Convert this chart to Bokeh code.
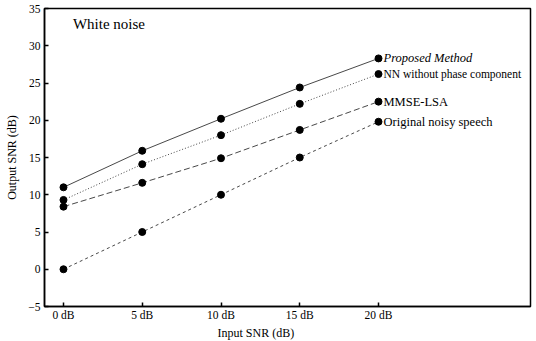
from bokeh.plotting import figure
from bokeh.models import Range1d, FixedTicker, Label, Title
from bokeh.embed import file_html
from bokeh.resources import INLINE

x_snr = [0, 5, 10, 15, 20]
x_tick_labels = ["0 dB", "5 dB", "10 dB", "15 dB", "20 dB"]
y_ticks = [-5, 0, 5, 10, 15, 20, 25, 30, 35]

proposed = [11.0, 15.9, 20.2, 24.4, 28.3]
nn_nophase = [9.3, 14.1, 18.0, 22.2, 26.2]
mmse_lsa = [8.4, 11.6, 14.9, 18.7, 22.5]
original = [0.0, 5.0, 10.0, 15.0, 19.8]

series_names = ["Proposed Method", "NN without phase component", "MMSE-LSA", "Original noisy speech"]
series_vals = [proposed, nn_nophase, mmse_lsa, original]
series_dash = ["solid", "1 2", "6 3", "3 3"]
label_sizes = ["12.5px", "11.5px", "12.5px", "12.5px"]
label_styles = ["italic", "normal", "normal", "normal"]

FONT = "Liberation Serif"

p = figure(width=534, height=340, output_backend="svg", toolbar_location=None,
           x_range=Range1d(-1.206, 29.65), y_range=Range1d(-5, 35),
           min_border_left=44, min_border_right=4, min_border_top=8, min_border_bottom=32)

p.xgrid.visible = False
p.ygrid.visible = False
p.outline_line_color = "black"
p.outline_line_width = 1.5
p.background_fill_color = "white"
p.border_fill_color = "white"

# axes
p.xaxis.ticker = FixedTicker(ticks=x_snr)
p.xaxis.major_label_overrides = {x: l for x, l in zip(x_snr, x_tick_labels)}
p.yaxis.ticker = FixedTicker(ticks=y_ticks)
for ax in (p.xaxis[0], p.yaxis[0]):
    ax.major_tick_in = 4
    ax.major_tick_out = 0
    ax.minor_tick_in = 0
    ax.minor_tick_out = 0
    ax.axis_line_width = 1.5
    ax.axis_line_color = "black"
    ax.major_tick_line_color = "black"
    ax.major_tick_line_width = 1.5
    ax.major_label_text_font = FONT
    ax.major_label_text_font_size = "11.5px"
    ax.major_label_text_color = "black"
p.xaxis.major_label_standoff = 2
p.yaxis.major_label_standoff = 4
p.yaxis.axis_label = "Output SNR (dB)"
p.yaxis.axis_label_text_font = FONT
p.yaxis.axis_label_text_font_size = "12px"
p.yaxis.axis_label_text_font_style = "normal"
p.yaxis.axis_label_standoff = 6
p.yaxis.axis_label_text_color = "black"

# x-axis title, placed under the 10-15 dB region as in the reference
p.add_layout(Title(text="Input SNR (dB)", align="left", offset=173, standoff=1,
                   text_font=FONT, text_font_size="12px", text_font_style="normal",
                   text_color="black"), "below")

for vals, dash in zip(series_vals, series_dash):
    p.line(x_snr, vals, line_color="#333333", line_width=0.9, line_dash=dash)
    p.scatter(x_snr, vals, marker="circle", size=7, fill_color="black", line_color="black")

for name, vals, fs, st in zip(series_names, series_vals, label_sizes, label_styles):
    p.add_layout(Label(x=x_snr[-1], y=vals[-1], text=name, x_offset=5,
                       text_font=FONT, text_font_size=fs, text_font_style=st,
                       text_baseline="middle", text_align="left", text_color="black"))

p.add_layout(Label(x=0.6, y=32.9, text="White noise", text_font=FONT,
                   text_font_size="15px", text_baseline="middle", text_align="left",
                   text_color="black"))

open("out.html", "w").write(file_html(p, INLINE))
